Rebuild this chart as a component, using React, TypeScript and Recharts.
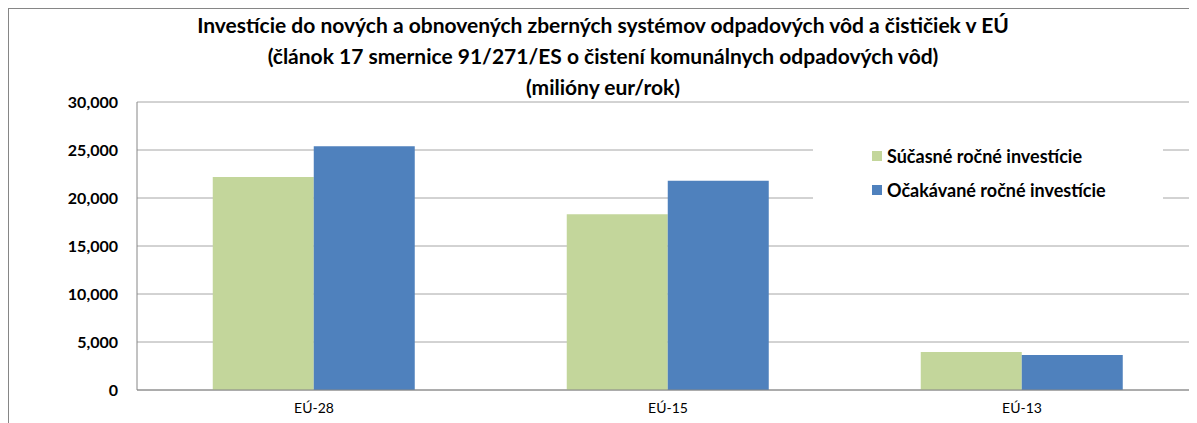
import { Bar, BarChart, CartesianGrid, XAxis, YAxis } from 'recharts'

const categories = ['EÚ-28', 'EÚ-15', 'EÚ-13']
const current = [22200, 18300, 3950]
const expected = [25400, 21800, 3650]
const yTicks = [0, 5000, 10000, 15000, 20000, 25000, 30000]
const titleLines = [
  'Investície do nových a obnovených zberných systémov odpadových vôd a čističiek v EÚ',
  '(článok 17 smernice 91/271/ES o čistení komunálnych odpadových vôd)',
  '(milióny eur/rok)',
]

const SERIES = [
  { key: 'current', name: 'Súčasné ročné investície', color: '#c3d69b' },
  { key: 'expected', name: 'Očakávané ročné investície', color: '#4f81bd' },
]

const data = categories.map((label, i) => ({
  label,
  current: current[i],
  expected: expected[i],
}))

const FONT = 'Lato, "Open Sans", sans-serif'
const fmt = (n: number) => n.toLocaleString('en-US')

// Excel-style legend: white box sitting over the gridlines
function LegendBox() {
  return (
    <div
      style={{
        position: 'absolute',
        left: 804,
        top: 122,
        width: 291,
        padding: '8px 0 8px 59px',
        background: '#fff',
      }}
    >
      {SERIES.map((s) => (
        <div
          key={s.key}
          style={{
            display: 'flex',
            alignItems: 'center',
            height: 34,
            fontWeight: 700,
            fontSize: 18,
            color: '#000',
          }}
        >
          <span style={{ width: 10, height: 10, background: s.color, marginRight: 5 }} />
          {s.name}
        </div>
      ))}
    </div>
  )
}

export default function App() {
  return (
    <div
      style={{
        position: 'relative',
        width: 1188,
        height: 414,
        borderLeft: '1px solid #868686',
        borderTop: '1px solid #868686',
        fontFamily: FONT,
        overflow: 'hidden',
      }}
    >
      <div
        style={{
          position: 'absolute',
          left: 0,
          top: 0,
          width: 1188,
          textAlign: 'center',
          fontWeight: 700,
          fontSize: 21,
          lineHeight: '31px',
          color: '#000',
        }}
      >
        {titleLines.map((t) => (
          <div key={t}>{t}</div>
        ))}
      </div>
      <BarChart
        width={1190}
        height={414}
        data={data}
        margin={{ top: 93, right: 0, bottom: 3, left: 0 }}
        barCategoryGap="21.4%"
        barGap={0}
      >
        <CartesianGrid stroke="#a6a6a6" vertical={false} />
        <XAxis
          dataKey="label"
          height={30}
          tick={{ fill: '#000', fontSize: 14, fontFamily: FONT }}
          tickLine={false}
          tickSize={0}
          tickMargin={13}
          axisLine={{ stroke: '#868686' }}
        />
        <YAxis
          width={128}
          domain={[0, 30000]}
          ticks={yTicks}
          tickFormatter={fmt}
          tick={{ fill: '#000', fontSize: 16, fontWeight: 700, fontFamily: FONT }}
          tickLine={false}
          tickSize={0}
          tickMargin={19}
          axisLine={{ stroke: '#868686' }}
        />
        {SERIES.map((s) => (
          <Bar
            key={s.key}
            dataKey={s.key}
            name={s.name}
            fill={s.color}
            isAnimationActive={false}
          />
        ))}
      </BarChart>
      <LegendBox />
    </div>
  )
}
